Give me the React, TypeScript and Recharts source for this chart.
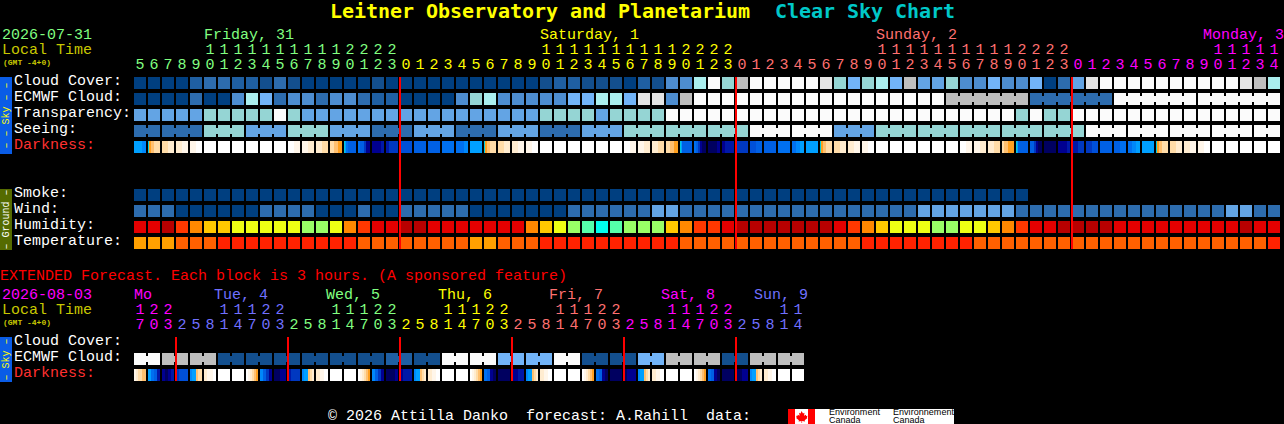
import { ScatterChart, Scatter, XAxis, YAxis, ReferenceLine } from 'recharts'

// hours along the top of each block (hourly forecast, then the 3 hour extended one)
const mainHours = [
  5, 6, 7, 8, 9, 10, 11, 12, 13, 14, 15, 16, 17, 18, 19, 20, 21, 22, 23,
  0, 1, 2, 3, 4, 5, 6, 7, 8, 9, 10, 11, 12, 13, 14, 15, 16, 17, 18, 19, 20, 21, 22, 23,
  0, 1, 2, 3, 4, 5, 6, 7, 8, 9, 10, 11, 12, 13, 14, 15, 16, 17, 18, 19, 20, 21, 22, 23,
  0, 1, 2, 3, 4, 5, 6, 7, 8, 9, 10, 11, 12, 13, 14,
]
const extHours = [
  17, 20, 23,
  2, 5, 8, 11, 14, 17, 20, 23,
  2, 5, 8, 11, 14, 17, 20, 23,
  2, 5, 8, 11, 14, 17, 20, 23,
  2, 5, 8, 11, 14, 17, 20, 23,
  2, 5, 8, 11, 14, 17, 20, 23,
  2, 5, 8, 11, 14,
]
const mainDays = ['Friday, 31', 'Saturday, 1', 'Sunday, 2', 'Monday, 3']
const extDays = ['Mo', 'Tue, 4', 'Wed, 5', 'Thu, 6', 'Fri, 7', 'Sat, 8', 'Sun, 9']
const mainMidnights = [19, 43, 67]
const extMidnights = [3, 11, 19, 27, 35, 43]

const mainRowLabels = ['Cloud Cover:', 'ECMWF Cloud:', 'Transparency:', 'Seeing:', 'Darkness:', '', '', 'Smoke:', 'Wind:', 'Humidity:', 'Temperature:']
const extRowLabels = ['Cloud Cover:', 'ECMWF Cloud:', 'Darkness:']

// sky levels: index into skyPalette
const cloudCover = [
  0, 0, 0, 0, 2, 3, 3, 2, 2, 1, 3, 1, 0, 0, 0, 0, 0, 1, 0,
  0, 0, 0, 0, 0, 0, 0, 0, 0, 0, 1, 2, 2, 1, 1, 1, 0, 2, 1, 4, 4, 8, 11, 7,
  9, 11, 11, 11, 11, 11, 10, 7, 6, 7, 8, 6, 9, 5, 5, 7, 4, 4, 6, 4, 4, 6, 0, 3,
  5, 10, 11, 11, 11, 11, 11, 11, 11, 11, 11, 11, 10, 9, 8,
]
const ecmwfCloud = [
  0, 0, 0, 0, 3, 0, 0, 4, 8, 6, 3, 4, 4, 3, 4, 4, 3, 2, 2,
  0, 0, 0, 0, 4, 7, 8, 4, 4, 4, 4, 4, 6, 6, 8, 8, 6, 10, 10, 4, 9, 11, 11, 11,
  11, 11, 11, 11, 11, 11, 11, 11, 11, 11, 11, 11, 11, 11, 11, 9, 9, 9, 9, 9, 9, 3, 3, 3,
  3, 3, 3, 11, 11, 11, 11, 11, 11, 11, 11, 11, 11, 11, 11,
]
const ecmwfRuns = [
  1, 1, 1, 1, 1, 1, 1, 1, 1, 1, 1, 1, 1, 1, 1, 1, 1, 1, 1, 1, 1, 1, 1, 1, 1, 1, 1, 1, 1,
  1, 1, 1, 1, 1, 1, 1, 1, 1, 1, 1, 1, 1, 1, 1, 1, 1, 1, 1, 1, 1, 1, 1, 1, 1, 1, 1, 1, 1,
  6, 6, 6, 6,
]
const transparency = [
  5, 5, 5, 5, 5, 7, 7, 7, 7, 7, 11, 7, 5, 5, 5, 5, 5, 5, 5,
  5, 5, 5, 5, 5, 5, 5, 5, 5, 5, 7, 7, 7, 7, 5, 7, 7, 7, 7, 11, 11, 11, 11, 11,
  11, 11, 11, 11, 11, 11, 11, 11, 11, 11, 11, 11, 11, 11, 11, 11, 11, 11, 11, 11, 7, 11, 7, 7,
  11, 11, 11, 11, 11, 11, 11, 11, 11, 11, 11, 11, 11, 11, 11,
]
const seeing = [
  3, 3, 3, 3, 3, 7, 7, 7, 5, 5, 5, 7, 7, 7, 5, 5, 5, 3, 3,
  3, 5, 5, 5, 3, 3, 3, 5, 5, 5, 3, 3, 3, 5, 5, 5, 7, 7, 7, 7, 7, 7, 7, 7,
  7, 11, 11, 11, 11, 11, 11, 5, 5, 5, 7, 7, 7, 7, 7, 7, 7, 7, 7, 7, 7, 7, 7, 7,
  7, 11, 11, 11, 11, 11, 11, 11, 11, 11, 11, 11, 11, 11, 11,
]
const seeingRuns = [2, 3, 3, 3, 3, 3, 3, 3, 3, 3, 3, 3, 3, 3, 3, 3, 3, 3, 3, 3, 3, 3, 3, 3, 3, 3, 3, 2]
const smoke = [
  0, 0, 0, 0, 0, 0, 0, 0, 0, 0, 0, 0, 0, 0, 0, 0, 0, 0, 0,
  0, 0, 0, 0, 0, 0, 0, 0, 0, 0, 0, 0, 0, 0, 0, 0, 0, 0, 0, 0, 0, 0, 0, 0,
  0, 0, 0, 0, 0, 0, 0, 0, 0, 0, 0, 0, 0, 0, 0, 0, 0, 0, 0, 0, 0,
]
const wind = [
  3, 3, 3, 0, 0, 0, 0, 0, 0, 3, 3, 3, 3, 0, 0, 0, 3, 0, 0,
  3, 3, 3, 3, 3, 0, 0, 0, 0, 0, 0, 0, 3, 3, 3, 3, 3, 3, 5, 5, 3, 3, 3, 3,
  3, 3, 3, 3, 3, 3, 3, 3, 3, 3, 3, 3, 3, 5, 5, 5, 5, 5, 5, 5, 3, 3, 3, 3,
  3, 3, 3, 3, 3, 3, 3, 3, 3, 3, 3, 5, 5, 3, 3,
]
// index into humidityPalette
const humidity = [
  1, 1, 0, 2, 3, 4, 4, 5, 5, 5, 5, 5, 6, 6, 5, 3, 2, 1, 1,
  0, 0, 1, 1, 1, 1, 1, 1, 1, 3, 4, 5, 6, 7, 8, 7, 6, 6, 6, 4, 3, 2, 2, 1,
  0, 0, 0, 0, 0, 0, 0, 1, 2, 3, 4, 5, 5, 5, 6, 6, 5, 5, 4, 3, 2, 1, 1, 0,
  0, 0, 0, 1, 1, 1, 1, 1, 1, 1, 1, 1, 0, 1, 1,
]
// index into temperaturePalette
const temperature = [
  2, 2, 2, 1, 1, 1, 0, 0, 0, 0, 0, 0, 0, 0, 0, 0, 1, 1, 1,
  1, 1, 1, 1, 1, 2, 2, 1, 1, 1, 0, 0, 0, 0, 0, 0, 0, 0, 0, 0, 1, 1, 1, 1,
  1, 1, 1, 1, 1, 1, 1, 1, 1, 0, 0, 0, 0, 0, 0, 0, 0, 1, 1, 1, 1, 1, 1, 1,
  1, 1, 1, 1, 1, 1, 1, 1, 1, 1, 1, 1, 1, 1, 0,
]
// each cell is a few samples from left to right, index into darknessPalette
const darkness = [
  [8, 8, 7], [9, 10, 10, 11, 11, 11, 12, 12, 12, 12, 12, 12], [12, 12, 13, 13], [13, 13, 14, 14], [14, 14, 15, 15],
  [15], [15], [15], [15], [15], [15],
  [15, 15, 14, 14], [14, 14, 13, 13], [13, 13, 12, 12], [12, 12, 11, 11, 10, 10],
  [9, 8, 6, 6, 5, 5, 5, 5, 5, 5, 5, 5], [6, 5, 5, 3, 1, 1], [1, 1, 1, 2], [2, 3, 3, 3],
  [4], [5], [5], [6], [6, 6, 7], [8],
  [9, 10, 10, 11, 11, 11, 12, 12, 12, 12, 12, 12], [12, 12, 13, 13], [13, 13, 14, 14], [14, 14, 15, 15],
  [15], [15], [15], [15], [15], [15],
  [15, 15, 14, 14], [14, 14, 13, 13], [13, 13, 12, 12], [12, 12, 11, 11, 10, 10],
  [9, 8, 5, 5, 5, 5, 5, 5, 5, 5, 5, 5], [6, 5, 3, 1, 0, 0], [0, 0, 0, 1], [1, 2, 2, 2],
  [3], [4, 5], [5], [6], [6, 7, 8], [8],
  [9, 10, 10, 11, 11, 11, 12, 12, 12, 12, 12, 12], [12, 12, 13, 13], [13, 13, 14, 14], [14, 14, 15, 15],
  [15], [15], [15], [15], [15], [15],
  [15, 15, 14, 14], [14, 14, 13, 13], [13, 13, 12, 12], [12, 11, 11, 10, 10, 10],
  [9, 8, 5, 5, 5, 5, 5, 5, 5, 5, 5, 5], [5, 5, 3, 1, 0, 0], [0], [1, 1, 1, 2],
  [2, 3], [3, 4], [5], [5, 6], [6, 7, 8], [8],
  [9, 10, 10, 11, 11, 11, 12, 12, 12, 12, 12, 12], [12, 12, 13, 13], [13, 13, 14, 14], [14, 14, 15, 15],
  [15], [15], [15], [15], [15],
]

const extEcmwf = [
  11, 11, 9, 9, 9, 9, 1, 1, 1, 1, 1, 1, 1, 1, 1, 1, 1, 1, 2, 2, 1, 1, 11, 11,
  11, 11, 6, 6, 6, 6, 11, 11, 1, 1, 1, 1, 6, 6, 9, 9, 9, 9, 1, 1, 9, 9, 9, 9,
]
const extEcmwfRuns = [2, 2, 2, 2, 2, 2, 2, 2, 2, 2, 2, 2, 2, 2, 2, 2, 2, 2, 2, 2, 2, 2, 2, 2]
const extDarkness = [
  [14, 13, 12, 12, 11, 11], [8, 6, 5, 2], [1, 0, 1, 2], [3, 4, 4, 4], [7, 8, 8, 11, 12, 12], [13, 14, 14, 15], [15], [15],
  [15, 14, 13, 12, 11, 10], [7, 5, 3, 1], [0, 0, 1, 1], [2, 3, 3, 3], [7, 8, 8, 11, 12, 13], [13, 14, 15], [15], [15],
  [15, 14, 13, 12, 11, 10], [7, 5, 3, 1], [0, 0, 0, 1], [1, 2, 2, 2], [7, 8, 8, 11, 12, 13], [13, 14, 15], [15], [15],
  [15, 14, 13, 12, 11, 10], [6, 5, 1, 0], [0], [1, 1, 2, 2], [7, 8, 8, 11, 12, 13], [13, 14, 15], [15], [15],
  [15, 14, 13, 12, 11, 10], [6, 5, 1, 0], [0], [0, 1, 1, 1], [7, 8, 8, 11, 12, 13], [13, 14, 15], [15], [15],
  [15, 14, 13, 12, 11, 10], [6, 5, 1, 0], [0], [0, 0, 1, 1], [7, 8, 8, 11, 12, 13], [13, 14, 15], [15], [15],
]

// colours and layout
const skyPalette = ['#003f80', '#134f8e', '#1f5fa2', '#2d6cae', '#4d8dd0', '#63a4e4', '#72b4f8', '#95d5d4', '#aaeeee', '#bebebe', '#e4e4e4', '#fbfbfb']
const humidityPalette = ['#b80000', '#e40000', '#ff3800', '#ff8800', '#ffc800', '#eeff14', '#99ff66', '#55ffaa', '#00ffee']
const temperaturePalette = ['#ff2200', '#ff6000', '#ffa000']
const darknessPalette = ['#000060', '#000090', '#0018a8', '#0038c0', '#0050d8', '#0060e4', '#0070f0', '#0088fa', '#00a0ff', '#00ccdd', '#ffa020', '#ffc070', '#ffdca8', '#ffecd0', '#fff6ea', '#ffffff']
const mainDayColors = ['#80ff80', '#ffff00', '#ff7070', '#ff00ff']
const extDayColors = ['#ff00ff', '#7070ff', '#80ff80', '#ffff00', '#ff7070', '#ff00ff', '#7070ff']
const mainDayX = [204, 540, 876, 1203]
const extDayX = [134, 214, 326, 438, 549, 661, 754]

const MONO = "'Liberation Mono', monospace"
const TITLE_FONT = "'DejaVu Sans Mono', monospace"
const PITCH = 14
const CELL = 12
const LEFT = 133
const ROW = 16
const AXIS_H = 77

interface CellPoint {
  col: number
  row: number
  colors: string[]
  linked: boolean
}

function linkedFlags(runs: number[]) {
  const flags: boolean[] = []
  runs.forEach((n) => {
    for (let i = 0; i < n; i++) flags.push(i < n - 1)
  })
  return flags
}

function levelRow(row: number, values: number[], palette: string[], runs?: number[]): CellPoint[] {
  const flags = runs ? linkedFlags(runs) : []
  return values.map((v, col) => ({ col, row, colors: [palette[v]], linked: !!flags[col] }))
}

function stripRow(row: number, values: number[][]): CellPoint[] {
  return values.map((samples, col) => ({ col, row, colors: samples.map((s) => darknessPalette[s]), linked: false }))
}

const mainCells = [
  ...levelRow(0, cloudCover, skyPalette),
  ...levelRow(1, ecmwfCloud, skyPalette, ecmwfRuns),
  ...levelRow(2, transparency, skyPalette),
  ...levelRow(3, seeing, skyPalette, seeingRuns),
  ...stripRow(4, darkness),
  ...levelRow(7, smoke, skyPalette),
  ...levelRow(8, wind, skyPalette),
  ...levelRow(9, humidity, humidityPalette),
  ...levelRow(10, temperature, temperaturePalette),
]
const extCells = [...levelRow(1, extEcmwf, skyPalette, extEcmwfRuns), ...stripRow(2, extDarkness)]

function CellMark(props: any) {
  const { cx, cy, payload } = props
  const p = payload as CellPoint
  const left = cx - CELL / 2
  const top = cy - CELL / 2
  const w = CELL / p.colors.length
  return (
    <g shapeRendering="crispEdges">
      {p.colors.map((c, i) => (
        <rect key={i} x={left + i * w} y={top} width={w} height={CELL} fill={c} />
      ))}
      {p.linked && <rect x={left + CELL} y={top + 3} width={PITCH - CELL} height={6} fill={p.colors[0]} />}
    </g>
  )
}

function dayColorFor(hours: number[], index: number, colors: string[]) {
  let day = 0
  for (let i = 1; i <= index; i++) if (hours[i] < hours[i - 1]) day++
  return colors[day]
}

function ForecastGrid(props: {
  hours: number[]
  dayColors: string[]
  rowLabels: string[]
  cells: CellPoint[]
  midnights: number[]
  top: number
}) {
  const { hours, dayColors, rowLabels, cells, midnights, top } = props
  const rows = rowLabels.length
  const width = LEFT + hours.length * PITCH
  const bottomPad = 6 // room for the descender of the last row label
  const height = AXIS_H + rows * ROW - 4 + bottomPad
  return (
    <div style={{ position: 'absolute', left: 0, top }}>
      <ScatterChart width={width} height={height} margin={{ top: 0, right: 0, bottom: bottomPad, left: 0 }}>
        <XAxis
          xAxisId={0}
          type="number"
          dataKey="col"
          orientation="top"
          height={AXIS_H}
          domain={[-0.5, hours.length - 0.5]}
          ticks={hours.map((_, i) => i)}
          interval={0}
          axisLine={false}
          tickLine={false}
          tick={(t: any) => {
            const hour = hours[t.payload.value]
            const fill = dayColorFor(hours, t.payload.value, dayColors)
            return (
              <g fontFamily={MONO} fontSize={15} fill={fill} textAnchor="middle">
                {hour >= 10 && (
                  <text x={t.x} y={AXIS_H - 23}>
                    {Math.floor(hour / 10)}
                  </text>
                )}
                <text x={t.x} y={AXIS_H - 8}>
                  {hour % 10}
                </text>
              </g>
            )
          }}
        />
        <YAxis
          yAxisId={0}
          type="number"
          dataKey="row"
          width={LEFT}
          reversed
          domain={[-0.375, rows - 1 + 0.375]}
          ticks={rowLabels.map((_, i) => i)}
          interval={0}
          axisLine={false}
          tickLine={false}
          tick={(t: any) => {
            const label = rowLabels[t.payload.value]
            return (
              <text x={14} y={t.y + 2} fontFamily={MONO} fontSize={15} fill={label === 'Darkness:' ? '#ff3030' : '#ffffff'}>
                {label}
              </text>
            )
          }}
        />
        <Scatter data={cells} shape={CellMark} isAnimationActive={false} legendType="none" zIndex={100} />
        {midnights.map((c) => (
          <ReferenceLine key={c} x={c - 6 / PITCH} stroke="#ff0000" strokeWidth={2} zIndex={900} />
        ))}
      </ScatterChart>
    </div>
  )
}

function Txt(props: { x: number; y: number; fill: string; size?: number; bold?: boolean; font?: string; spacing?: number; children: string }) {
  const { x, y, fill, size = 15, bold, font = MONO, spacing, children } = props
  return (
    <text x={x} y={y} fill={fill} fontSize={size} fontWeight={bold ? 700 : 400} fontFamily={font} letterSpacing={spacing} xmlSpace="preserve">
      {children}
    </text>
  )
}

function SideTag(props: { top: number; bottom: number; fill: string; color: string; label: string }) {
  const { top, bottom, fill, color, label } = props
  const mid = (top + bottom) / 2
  return (
    <g>
      <rect x={0} y={top} width={12} height={bottom - top} fill={fill} />
      <text
        x={6}
        y={mid}
        transform={`rotate(-90 6 ${mid})`}
        textAnchor="middle"
        dominantBaseline="central"
        fill={color}
        fontSize={10}
        fontFamily={MONO}
        xmlSpace="preserve"
      >
        {label}
      </text>
    </g>
  )
}

function Backdrop() {
  return (
    <svg width={1284} height={424} style={{ position: 'absolute', left: 0, top: 0 }}>
      <Txt x={330} y={18} fill="#ffff00" size={20} bold font={TITLE_FONT} spacing={-0.04}>
        Leitner Observatory and Planetarium
      </Txt>
      <Txt x={775} y={18} fill="#00c8c8" size={20} bold font={TITLE_FONT} spacing={-0.04}>
        Clear Sky Chart
      </Txt>

      <Txt x={2} y={39} fill={mainDayColors[0]}>
        2026-07-31
      </Txt>
      <Txt x={2} y={54} fill="#c8c800">
        Local Time
      </Txt>
      <Txt x={3} y={65} fill="#c8c800" size={8} bold>
        (GMT -4+0)
      </Txt>
      {mainDays.map((d, i) => (
        <Txt key={d} x={mainDayX[i]} y={39} fill={mainDayColors[i]}>
          {d}
        </Txt>
      ))}

      <Txt x={0} y={280} fill="#ff0000">
        EXTENDED Forecast. Each block is 3 hours. (A sponsored feature)
      </Txt>
      <Txt x={2} y={299} fill={extDayColors[0]}>
        2026-08-03
      </Txt>
      <Txt x={2} y={314} fill="#c8c800">
        Local Time
      </Txt>
      <Txt x={3} y={325} fill="#c8c800" size={8} bold>
        (GMT -4+0)
      </Txt>
      {extDays.map((d, i) => (
        <Txt key={d} x={extDayX[i]} y={299} fill={extDayColors[i]}>
          {d}
        </Txt>
      ))}

      <SideTag top={77} bottom={154} fill="#0a5ce6" color="#ffff00" label="– – Sky – –" />
      <SideTag top={189} bottom={250} fill="#556b00" color="#ffffff" label="– Ground –" />
      <SideTag top={337} bottom={382} fill="#0a5ce6" color="#ffff00" label="– Sky –" />

      <Txt x={328} y={420} fill="#ffffff">
        © 2026 Attilla Danko  forecast: A.Rahill  data:
      </Txt>

      <rect x={788} y={409} width={166} height={15} fill="#ffffff" />
      <rect x={788} y={409} width={7} height={15} fill="#ff0000" />
      <rect x={808} y={409} width={7} height={15} fill="#ff0000" />
      <path d="M801.5 411l1.5 2.5 1.5-.8-.5 3 1.8-1 .4 1.2 1.3-.2-.6 1.9.6.5-2.8 2.2.3 1.1-2.9-.3v2h-.6v-2l-2.9.3.3-1.1-2.8-2.2.6-.5-.6-1.9 1.3.2.4-1.2 1.8 1-.5-3 1.5.8z" fill="#ff0000" />
      <g fontFamily="'Liberation Sans', sans-serif" fontSize={9} fill="#000000">
        <text x={829} y={415} textLength={51}>Environment</text>
        <text x={829} y={423}>Canada</text>
        <text x={893} y={415} textLength={61}>Environnement</text>
        <text x={893} y={423}>Canada</text>
      </g>
    </svg>
  )
}

export default function App() {
  return (
    <div style={{ position: 'absolute', left: 0, top: 0, width: 1284, height: 424, background: '#000000', overflow: 'hidden' }}>
      <Backdrop />
      <ForecastGrid hours={mainHours} dayColors={mainDayColors} rowLabels={mainRowLabels} cells={mainCells} midnights={mainMidnights} top={0} />
      <ForecastGrid hours={extHours} dayColors={extDayColors} rowLabels={extRowLabels} cells={extCells} midnights={extMidnights} top={260} />
    </div>
  )
}
